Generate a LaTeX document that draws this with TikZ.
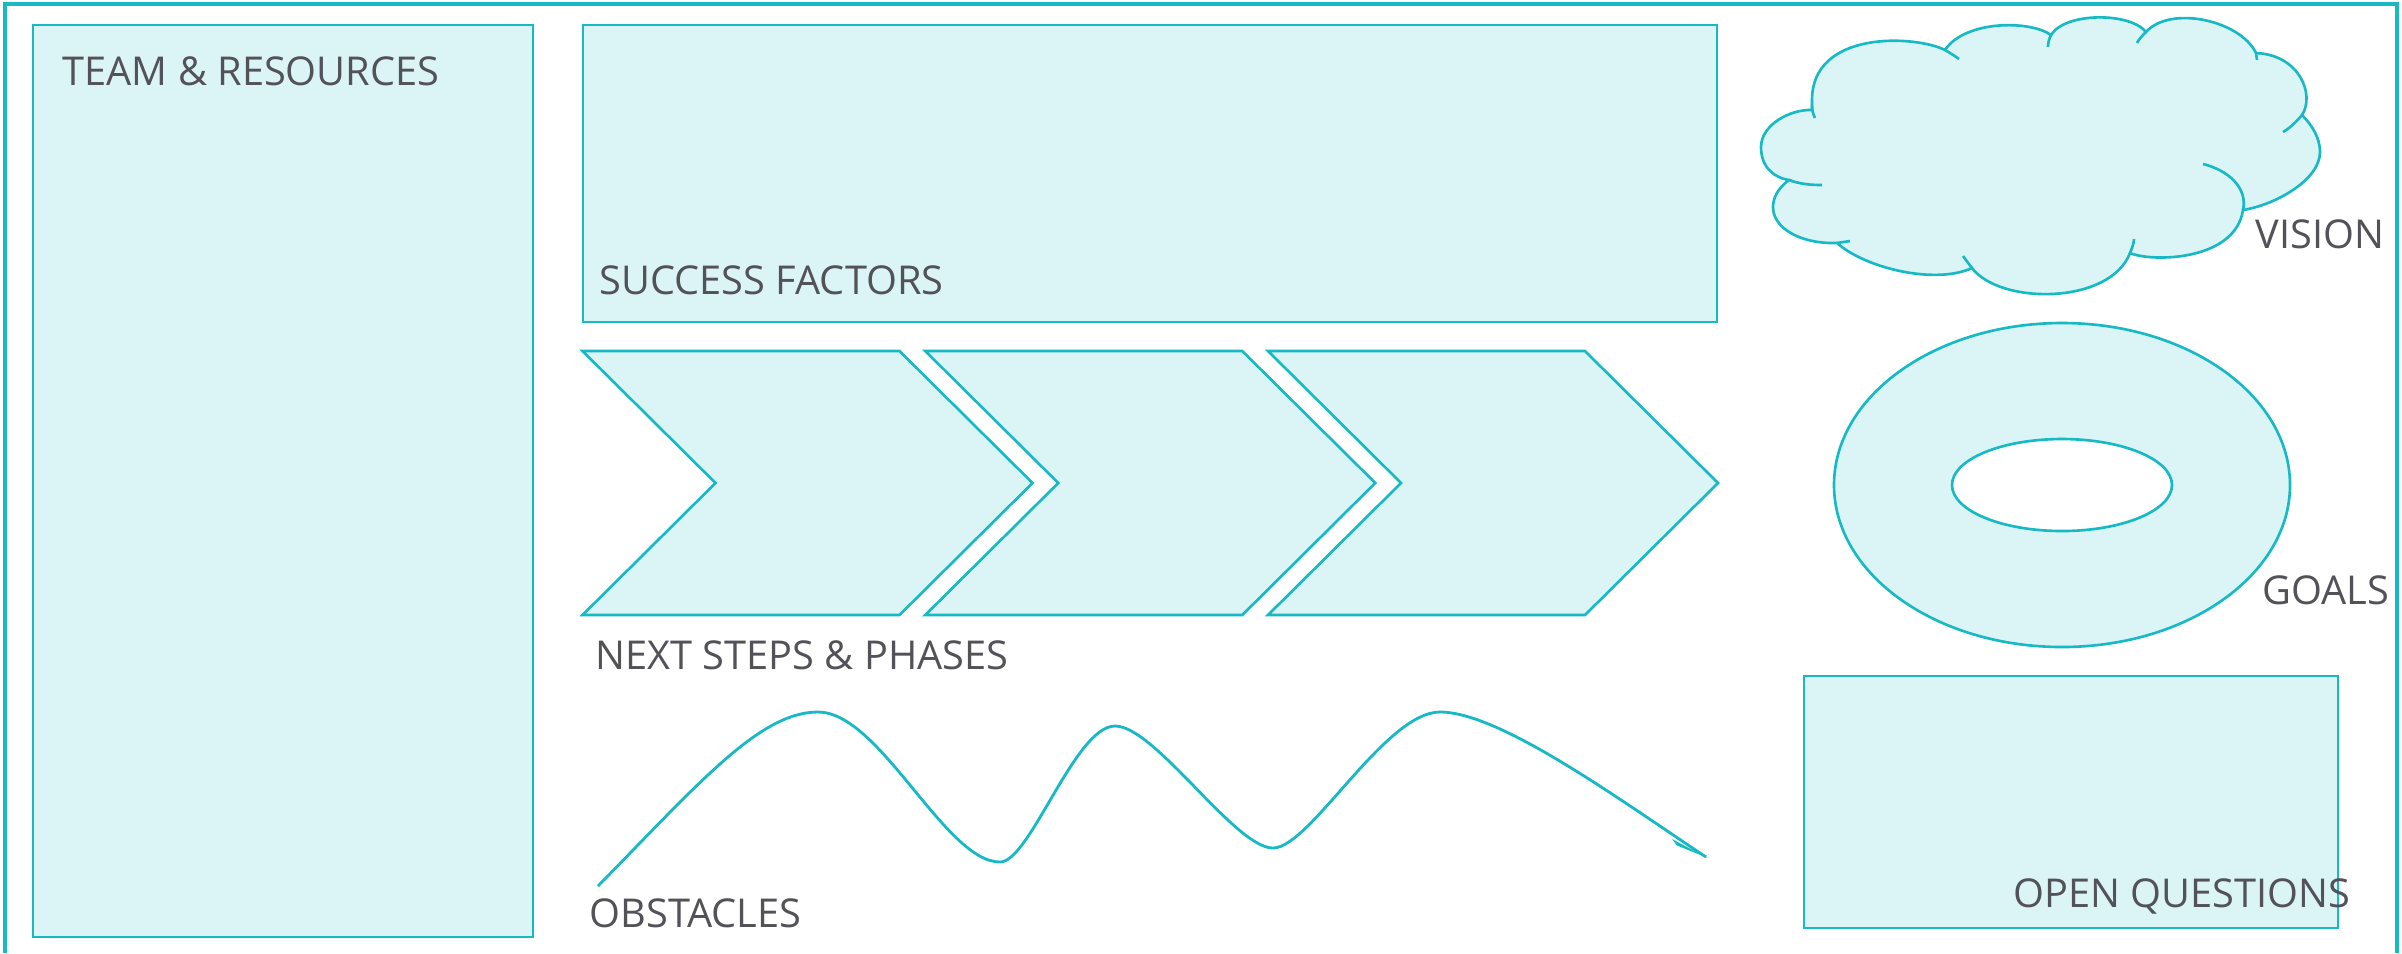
\documentclass[tikz,border=0pt]{standalone}
\usepackage{fontspec}
\setmainfont{Open Sans}
\definecolor{teal1}{RGB}{23,185,196}
\definecolor{aqua}{RGB}{219,245,246}
\definecolor{ink}{RGB}{82,82,88}
\begin{document}
\begin{tikzpicture}[x=0.01cm,y=-0.01cm,
  shapebox/.style={draw=teal1,fill=aqua,line width=0.75pt,line join=miter},
  tail/.style={draw=teal1,line width=0.75pt},
  wave/.style={draw=teal1,line width=0.8pt},
  lbl/.style={anchor=base west,inner sep=0pt,text=ink,font=\fontsize{11.3}{13}\selectfont}]
\useasboundingbox (0,0) rectangle (2402,953);
\fill[white] (0,0) rectangle (2402,953);
% outer frame (open at bottom)
\draw[teal1,line width=1.1pt] (5,953) -- (5,4) -- (2397,4) -- (2397,953);
% team & resources
\draw[shapebox] (33,25) rectangle (533,937);
% success factors
\draw[shapebox] (583,25) rectangle (1717,322);
% chevrons
\foreach \L in {582.5,925.25,1268}{
  \draw[shapebox] (\L,351) -- ++(317,0) -- ++(133,132) -- ++(-133,132) -- ++(-317,0) -- ++(133,-132) -- cycle;
}
% goals donut
\draw[shapebox,even odd rule] (2062,485) ellipse [x radius=228, y radius=162]
                              (2062,485) ellipse [x radius=110, y radius=46];
% open questions
\draw[shapebox] (1804,676) rectangle (2338,928);
% obstacles wave
\draw[wave] (598,886) .. controls (700,782) and (760,712) .. (818,712)
  .. controls (880,712) and (945,862) .. (1000,862)
  .. controls (1030,862) and (1075,726) .. (1115,726)
  .. controls (1155,726) and (1235,848) .. (1273,848)
  .. controls (1310,848) and (1385,712) .. (1440,712)
  .. controls (1500,712) and (1620,800) .. (1706,857);
\fill[teal1] (1672,839) -- (1708,858) -- (1677,845.5) -- cycle;
% vision cloud
\draw[shapebox] (1812,110) .. controls (1790,109) and (1761,125) .. (1761,147)
 .. controls (1761,168) and (1775,178) .. (1789,180)
 .. controls (1778,188) and (1773,198) .. (1773,207)
 .. controls (1773,228) and (1800,244) .. (1837,243)
 .. controls (1865,268) and (1935,285) .. (1972,268)
 .. controls (2000,305) and (2110,305) .. (2130,253)
 .. controls (2150,262) and (2235,262) .. (2243,210)
 .. controls (2275,205) and (2320,180) .. (2320,152)
 .. controls (2320,138) and (2312,125) .. (2302,115)
 .. controls (2315,95) and (2300,55) .. (2256,53)
 .. controls (2240,20) and (2170,5) .. (2146,32)
 .. controls (2130,12) and (2065,12) .. (2051,35)
 .. controls (2030,20) and (1965,20) .. (1945,50)
 .. controls (1915,35) and (1812,30) .. (1812,100)
 -- cycle;
\draw[tail] (1812,105) .. controls (1812,110) and (1813,114) .. (1815,118);
\draw[tail] (1789,180) .. controls (1800,184) and (1810,185) .. (1822,185);
\draw[tail] (1837,243) -- (1850,241);
\draw[tail] (1972,268) .. controls (1968,263) and (1966,260) .. (1963,256);
\draw[tail] (2130,253) .. controls (2132,248) and (2134,243) .. (2134,239);
\draw[tail] (2243,210) .. controls (2248,188) and (2228,170) .. (2203,164);
\draw[tail] (2302,115) .. controls (2296,122) and (2290,128) .. (2283,132);
\draw[tail] (2256,53) -- (2257,60);
\draw[tail] (2146,32) .. controls (2142,36) and (2139,39) .. (2137,43);
\draw[tail] (2051,35) .. controls (2049,39) and (2048,43) .. (2048,47);
\draw[tail] (1945,50) .. controls (1950,53) and (1955,56) .. (1959,59);
% labels
\node[lbl] (team) at (62,85) {TEAM \& RESOURCES};
\node[lbl] (succ) at (599,294) {SUCCESS FACTORS};
\node[lbl] (next) at (595,669) {NEXT STEPS \& PHASES};
\node[lbl] (obst) at (589,927) {OBSTACLES};
\node[lbl] (vis) at (2255,248) {VISION};
\node[lbl] (goal) at (2262,604) {GOALS};
\node[lbl] (open) at (2013,907) {OPEN QUESTIONS};
\end{tikzpicture}
\end{document}
